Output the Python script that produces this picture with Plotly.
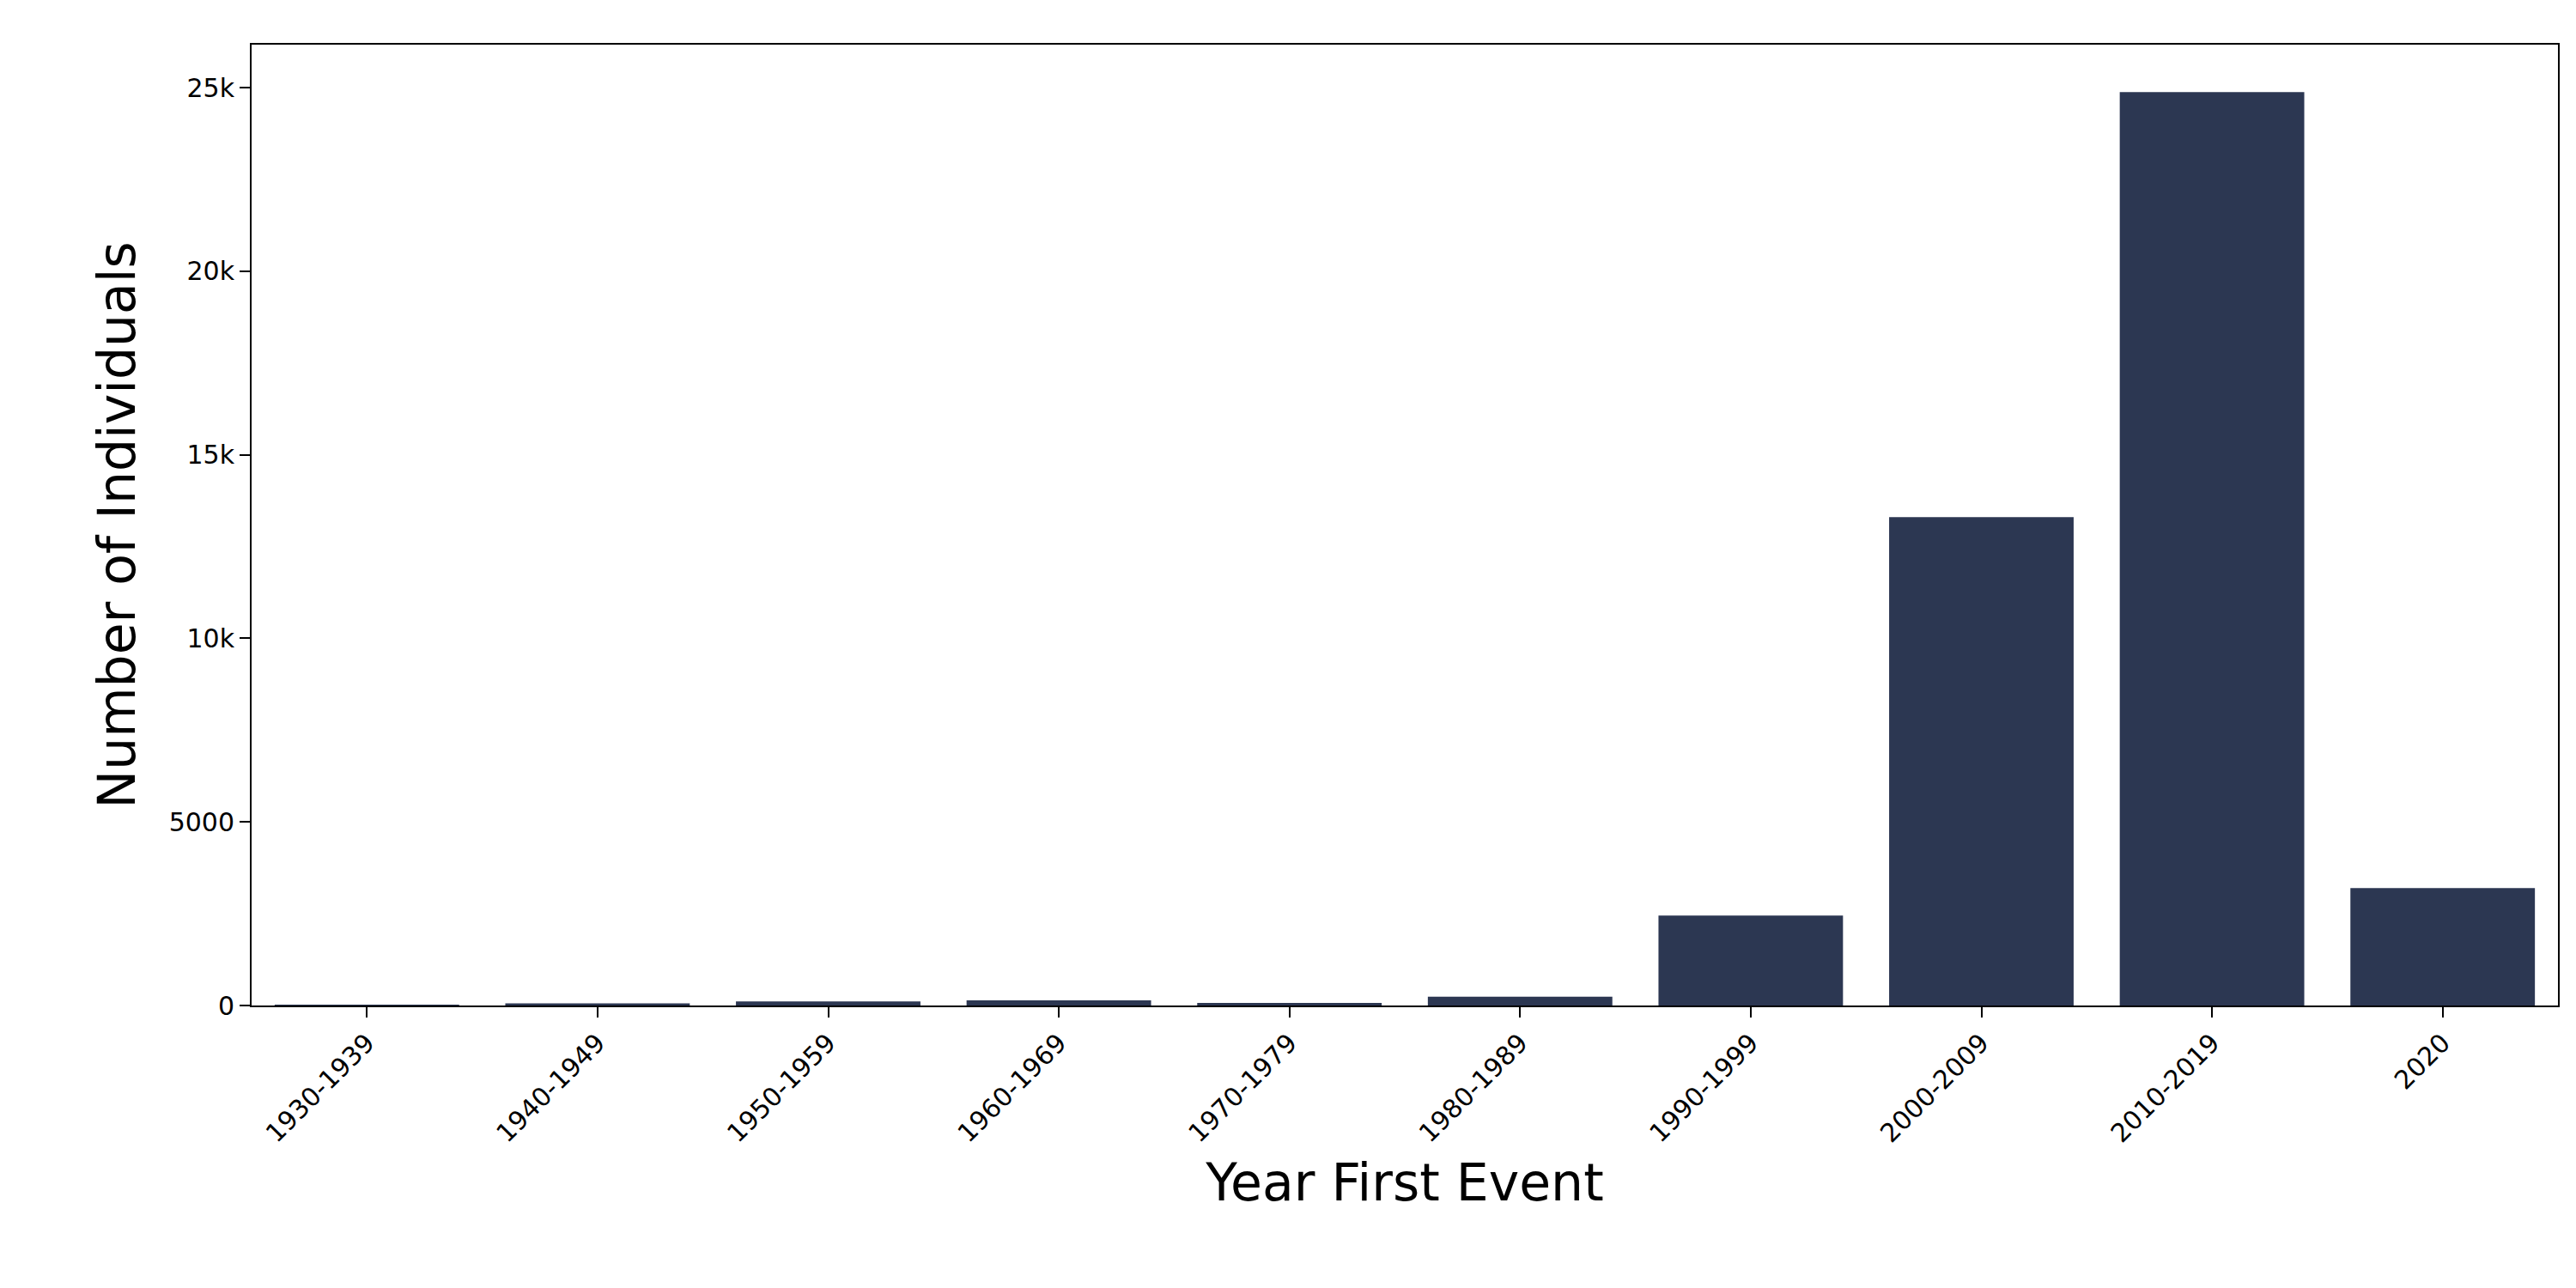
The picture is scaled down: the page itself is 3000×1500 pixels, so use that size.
import plotly.graph_objects as go

# decades of first event and counts
decades = ['1930-1939', '1940-1949', '1950-1959', '1960-1969', '1970-1979',
           '1980-1989', '1990-1999', '2000-2009', '2010-2019', '2020']
individuals = [8, 60, 110, 140, 70, 240, 2450, 13300, 24880, 3200]

fig = go.Figure(go.Bar(x=decades, y=individuals, marker_color='#2c3752',
                       marker_line_width=0))

fig.update_layout(
    width=3000, height=1500,
    margin=dict(l=285, r=29, t=44, b=337),
    plot_bgcolor='white', paper_bgcolor='white',
    bargap=0.2, showlegend=False,
    font=dict(family='DejaVu Sans', color='black'),
)
fig.update_xaxes(
    title=dict(text='Year First Event', font=dict(size=60), standoff=20),
    tickangle=-45, tickfont=dict(size=30),
    showline=True, linecolor='black', linewidth=2, mirror=True,
    ticks='outside', ticklen=12, tickwidth=2, tickcolor='black',
)
fig.update_yaxes(
    title=dict(text='Number of Individuals', font=dict(size=60), standoff=20),
    range=[0, 26170], tickvals=[0, 5000, 10000, 15000, 20000, 25000],
    tickfont=dict(size=30), showgrid=False, zeroline=False,
    showline=True, linecolor='black', linewidth=2, mirror=True,
    ticks='outside', ticklen=12, tickwidth=2, tickcolor='black',
)

fig.write_html('out.html')
